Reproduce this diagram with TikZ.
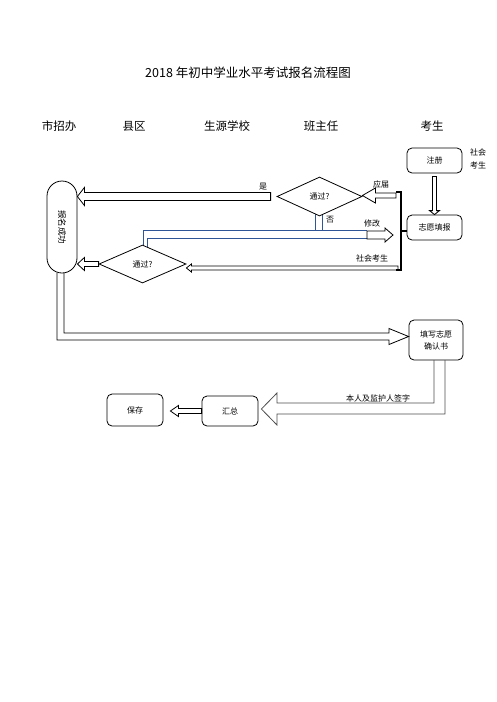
\documentclass[tikz,border=0pt]{standalone}
\usepackage{fontspec}
\setmainfont{Noto Sans CJK SC}
\usetikzlibrary{shapes.geometric,calc}
\definecolor{pipeblue}{RGB}{47,85,151}
\tikzset{
  harrow/.style n args={3}{to path={let \p1=(\tikztostart),\p2=(\tikztotarget),
    \n1={ifthenelse(\x2>\x1,1,-1)} in
    (\x1,\y1+#1) -- (\x2-\n1*#3,\y1+#1) -- (\x2-\n1*#3,\y1+#2) -- (\x2,\y1)
    -- (\x2-\n1*#3,\y1-#2) -- (\x2-\n1*#3,\y1-#1) -- (\x1,\y1-#1) -- cycle}},
  varrow/.style n args={3}{to path={let \p1=(\tikztostart),\p2=(\tikztotarget),
    \n1={ifthenelse(\y2>\y1,1,-1)} in
    (\x1+#1,\y1) -- (\x1+#1,\y2-\n1*#3) -- (\x1+#2,\y2-\n1*#3) -- (\x1,\y2)
    -- (\x1-#2,\y2-\n1*#3) -- (\x1-#1,\y2-\n1*#3) -- (\x1-#1,\y1) -- cycle}}
}

\begin{document}
\begin{tikzpicture}[x=1pt,y=-1pt,line width=0.8pt]
  \tikzstyle{box}=[draw,rounded corners=5pt,inner sep=1pt,font=\fontsize{8}{12}\selectfont]
  \tikzstyle{decision}=[draw,diamond,inner sep=0pt,fill=white,font=\fontsize{8}{10}\selectfont]
  \tikzstyle{head}=[font=\fontsize{11.5}{14}\selectfont]
  \tikzstyle{tag}=[font=\fontsize{8}{10}\selectfont,inner sep=0pt]
  \useasboundingbox (0,0) rectangle (496,702);

  \node (title) at (248,73) {\fontsize{12.5}{15}\selectfont 2018 年初中学业水平考试报名流程图};

  \node[head] (h_1) at (59,126) {市招办};
  \node[head] (h_2) at (134,126) {县区};
  \node[head] (h_3) at (227,126) {生源学校};
  \node[head] (h_4) at (321,126) {班主任};
  \node[head] (h_5) at (432,126) {考生};

  % blue pipe behind the diamonds
  \draw[pipeblue] (315,213) -- (315,230);
  \draw[pipeblue] (322,213) -- (322,230);
  \draw[pipeblue] (143,247) -- (143,230) -- (367,230);
  \draw[pipeblue] (147,249) -- (147,238) -- (367,238);

  \node[box,minimum width=55pt,minimum height=25pt] (reg) at (434.5,160.5) {注册};
  \node[box,minimum width=55pt,minimum height=25pt] (wish) at (434.5,227.5) {志愿填报};
  \node[tag,align=center,font=\fontsize{8}{13}\selectfont] (soc) at (478,158.5) {社会\\考生};
  \node[decision,minimum width=85pt,minimum height=39pt] (d_1) at (319.5,196.5) {通过?};
  \node[decision,minimum width=87pt,minimum height=38pt] (d_2) at (142.5,264) {通过?};
  \node[draw,rounded corners=15pt,minimum width=30pt,minimum height=92pt,inner sep=0pt,
        font=\fontsize{8.5}{10}\selectfont] (ok) at (62,227) {\rotatebox{-90}{报名成功}};
  \node[box,align=center,minimum width=54pt,minimum height=40pt] (conf) at (436,340) {填写志愿\\确认书};
  \node[box,minimum width=56pt,minimum height=30pt] (sum) at (230,411) {汇总};
  \node[box,minimum width=56pt,minimum height=32pt] (save) at (135,410) {保存};

  \coordinate (bk) at (401,231);
  \coordinate (fresh) at (396,195.5);
  \coordinate (fix) at (367,235);
  \coordinate (fixtip) at (393,235);
  \coordinate (other) at (398,268);

  % bracket of the three entries
  \draw[line width=1.8pt] (396,192) -- (401,192) -- (401,270) -- (396,270);
  \draw[line width=1.8pt] (bk) -- (bk -| wish.west);

  \draw[varrow={2}{5}{4}] ([yshift=-3pt]reg.south) to (wish.north);
  \draw[harrow={4}{9}{7}] ([xshift=-6pt]d_1.west) to (ok.east);
  \draw[harrow={2.5}{7.5}{13}] (fresh) to (d_1.east);
  \draw[harrow={4}{7}{8}] (fix) to (fixtip);
  \draw[harrow={2}{4}{5}] (other) to (d_2.east);
  \draw[harrow={2.5}{6.5}{7}] (d_2.west) to (ok.east);
  \draw[harrow={2.5}{5.5}{8}] (sum.west) to ([xshift=7pt]save.east);

  \draw (57,273) -- (57,340) -- (389,340) -- (389,344.5) -- (conf.west |- 0,336.5)
    -- (389,328.5) -- (389,333) -- (64,333) -- (64,273);
  \draw[black!70] (434,360) -- (434,403) -- (277,403) -- (277,393) -- ([xshift=3pt]sum.east |- 0,409)
    -- (277,425) -- (277,414) -- (445,414) -- (445,360);

  \node[tag] (l_yes) at (263,187) {是};
  \node[tag] (l_fresh) at (381,184) {应届};
  \node[tag] (l_no) at (330,220) {否};
  \node[tag] (l_fix) at (372,223.5) {修改};
  \node[tag] (l_other) at (372,258) {社会考生};
  \node[tag] (l_sign) at (378,398) {本人及监护人签字};
\end{tikzpicture}
\end{document}
